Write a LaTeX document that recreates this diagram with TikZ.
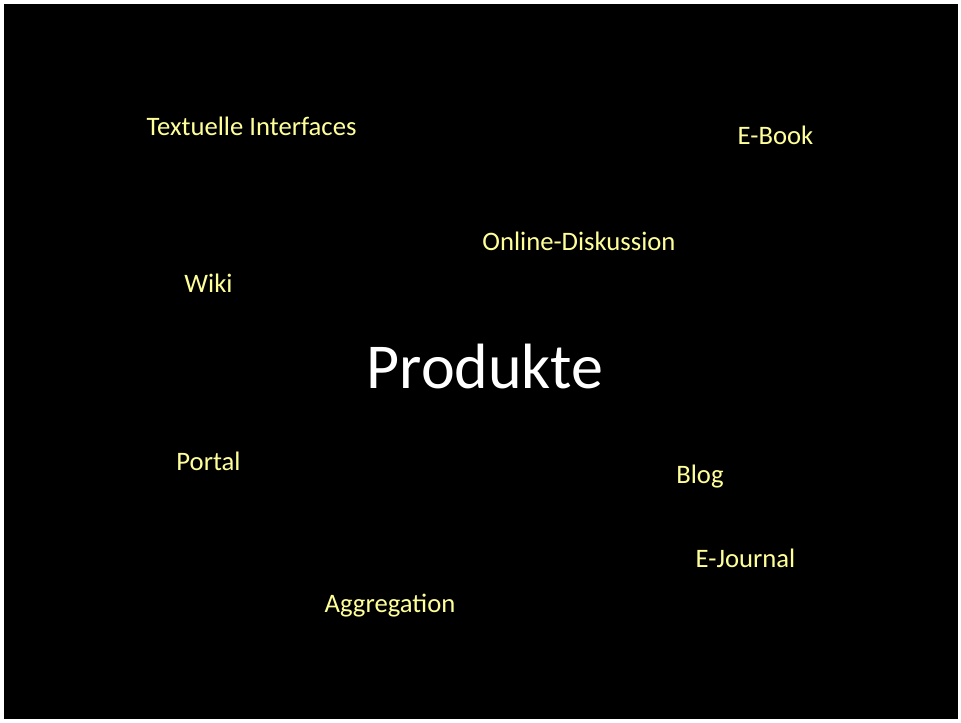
\documentclass[tikz,border=0pt]{standalone}
\usepackage{fontspec}
\setmainfont{Carlito}
\usepackage{xcolor}
\definecolor{paleyellow}{RGB}{255,255,153}

\begin{document}
\begin{tikzpicture}[x=0.75pt,y=-0.75pt,
    term/.style={anchor=base, inner sep=0pt, text=paleyellow, font=\fontsize{20}{24}\selectfont},
    title/.style={anchor=base, inner sep=0pt, text=white, font=\fontsize{48}{58}\selectfont}]
% Page and background
\useasboundingbox (0,0) rectangle (961,722);
\fill[white] (0,0) rectangle (961,722);
\fill[black] (4,4) rectangle (958,719);

% Centre word
\node[title] (produkte) at (485,388) {Produkte};

% Surrounding terms
\node[term] (textuelle) at (251.5,135) {Textuelle Interfaces};
\node[term] (ebook) at (775.5,144) {E-Book};
\node[term] (online) at (579,250) {Online-Diskussion};
\node[term] (wiki) at (208.5,292) {Wiki};
\node[term] (portal) at (208.5,470) {Portal};
\node[term] (blog) at (700,483) {Blog};
\node[term] (ejournal) at (745.5,567) {E-Journal};
\node[term] (aggregation) at (390,612) {Aggregation};
\end{tikzpicture}
\end{document}
